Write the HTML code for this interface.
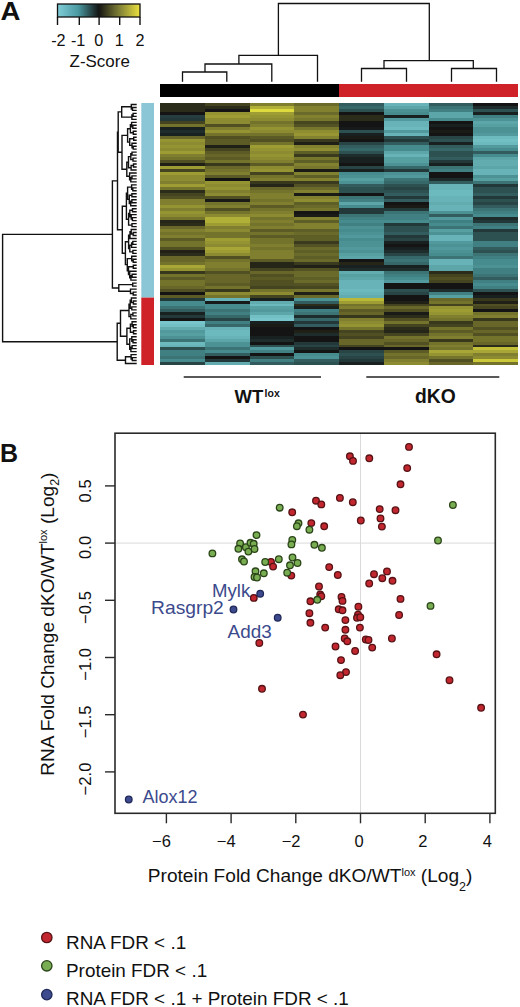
<!DOCTYPE html>
<html><head><meta charset="utf-8"><style>
html,body{margin:0;padding:0;background:#fff;width:520px;height:1007px;overflow:hidden}
svg{display:block}
</style></head><body>
<svg width="520" height="1007" viewBox="0 0 520 1007" shape-rendering="auto">
<g shape-rendering="crispEdges">
<rect x="160.00" y="103.00" width="45.15" height="3.40" fill="#2c2c1a"/>
<rect x="160.00" y="106.00" width="45.15" height="3.40" fill="#2c2c1a"/>
<rect x="160.00" y="108.99" width="45.15" height="3.40" fill="#2c2c1a"/>
<rect x="160.00" y="111.99" width="45.15" height="3.40" fill="#141414"/>
<rect x="160.00" y="114.98" width="45.15" height="3.40" fill="#263e3f"/>
<rect x="160.00" y="117.98" width="45.15" height="3.40" fill="#233839"/>
<rect x="160.00" y="120.97" width="45.15" height="3.40" fill="#444420"/>
<rect x="160.00" y="123.97" width="45.15" height="3.40" fill="#74732c"/>
<rect x="160.00" y="126.96" width="45.15" height="3.40" fill="#192020"/>
<rect x="160.00" y="129.96" width="45.15" height="3.40" fill="#1e2c2c"/>
<rect x="160.00" y="132.95" width="45.15" height="3.40" fill="#192020"/>
<rect x="160.00" y="135.95" width="45.15" height="3.40" fill="#686729"/>
<rect x="160.00" y="138.94" width="45.15" height="3.40" fill="#959433"/>
<rect x="160.00" y="141.94" width="45.15" height="3.40" fill="#8c8b32"/>
<rect x="160.00" y="144.94" width="45.15" height="3.40" fill="#959433"/>
<rect x="160.00" y="147.93" width="45.15" height="3.40" fill="#8c8b32"/>
<rect x="160.00" y="150.93" width="45.15" height="3.40" fill="#9e9d34"/>
<rect x="160.00" y="153.92" width="45.15" height="3.40" fill="#807f2f"/>
<rect x="160.00" y="156.92" width="45.15" height="3.40" fill="#74732c"/>
<rect x="160.00" y="159.91" width="45.15" height="3.40" fill="#505023"/>
<rect x="160.00" y="162.91" width="45.15" height="3.40" fill="#202017"/>
<rect x="160.00" y="165.90" width="45.15" height="3.40" fill="#9e9d34"/>
<rect x="160.00" y="168.90" width="45.15" height="3.40" fill="#444420"/>
<rect x="160.00" y="171.89" width="45.15" height="3.40" fill="#9e9d34"/>
<rect x="160.00" y="174.89" width="45.15" height="3.40" fill="#8c8b32"/>
<rect x="160.00" y="177.88" width="45.15" height="3.40" fill="#8c8b32"/>
<rect x="160.00" y="180.88" width="45.15" height="3.40" fill="#807f2f"/>
<rect x="160.00" y="183.88" width="45.15" height="3.40" fill="#9e9d34"/>
<rect x="160.00" y="186.87" width="45.15" height="3.40" fill="#74732c"/>
<rect x="160.00" y="189.87" width="45.15" height="3.40" fill="#2c2c1a"/>
<rect x="160.00" y="192.86" width="45.15" height="3.40" fill="#444420"/>
<rect x="160.00" y="195.86" width="45.15" height="3.40" fill="#505023"/>
<rect x="160.00" y="198.85" width="45.15" height="3.40" fill="#807f2f"/>
<rect x="160.00" y="201.85" width="45.15" height="3.40" fill="#807f2f"/>
<rect x="160.00" y="204.84" width="45.15" height="3.40" fill="#959433"/>
<rect x="160.00" y="207.84" width="45.15" height="3.40" fill="#807f2f"/>
<rect x="160.00" y="210.83" width="45.15" height="3.40" fill="#959433"/>
<rect x="160.00" y="213.83" width="45.15" height="3.40" fill="#8c8b32"/>
<rect x="160.00" y="216.82" width="45.15" height="3.40" fill="#74732c"/>
<rect x="160.00" y="219.82" width="45.15" height="3.40" fill="#262618"/>
<rect x="160.00" y="222.82" width="45.15" height="3.40" fill="#2c2c1a"/>
<rect x="160.00" y="225.81" width="45.15" height="3.40" fill="#686729"/>
<rect x="160.00" y="228.81" width="45.15" height="3.40" fill="#807f2f"/>
<rect x="160.00" y="231.80" width="45.15" height="3.40" fill="#74732c"/>
<rect x="160.00" y="234.80" width="45.15" height="3.40" fill="#807f2f"/>
<rect x="160.00" y="237.79" width="45.15" height="3.40" fill="#5c5b26"/>
<rect x="160.00" y="240.79" width="45.15" height="3.40" fill="#74732c"/>
<rect x="160.00" y="243.78" width="45.15" height="3.40" fill="#74732c"/>
<rect x="160.00" y="246.78" width="45.15" height="3.40" fill="#505023"/>
<rect x="160.00" y="249.77" width="45.15" height="3.40" fill="#202017"/>
<rect x="160.00" y="252.77" width="45.15" height="3.40" fill="#2c2c1a"/>
<rect x="160.00" y="255.76" width="45.15" height="3.40" fill="#686729"/>
<rect x="160.00" y="258.76" width="45.15" height="3.40" fill="#686729"/>
<rect x="160.00" y="261.76" width="45.15" height="3.40" fill="#74732c"/>
<rect x="160.00" y="264.75" width="45.15" height="3.40" fill="#a7a636"/>
<rect x="160.00" y="267.75" width="45.15" height="3.40" fill="#959433"/>
<rect x="160.00" y="270.74" width="45.15" height="3.40" fill="#38381d"/>
<rect x="160.00" y="273.74" width="45.15" height="3.40" fill="#74732c"/>
<rect x="160.00" y="276.73" width="45.15" height="3.40" fill="#5c5b26"/>
<rect x="160.00" y="279.73" width="45.15" height="3.40" fill="#74732c"/>
<rect x="160.00" y="282.72" width="45.15" height="3.40" fill="#74732c"/>
<rect x="160.00" y="285.72" width="45.15" height="3.40" fill="#686729"/>
<rect x="160.00" y="288.71" width="45.15" height="3.40" fill="#505023"/>
<rect x="160.00" y="291.71" width="45.15" height="3.40" fill="#141414"/>
<rect x="160.00" y="294.70" width="45.15" height="3.40" fill="#5c5b26"/>
<rect x="160.00" y="297.70" width="45.15" height="3.33" fill="#233839"/>
<rect x="160.00" y="300.63" width="45.15" height="3.33" fill="#468c8e"/>
<rect x="160.00" y="303.55" width="45.15" height="3.33" fill="#468c8e"/>
<rect x="160.00" y="306.48" width="45.15" height="3.33" fill="#3c7476"/>
<rect x="160.00" y="309.40" width="45.15" height="3.33" fill="#325c5d"/>
<rect x="160.00" y="312.33" width="45.15" height="3.33" fill="#192020"/>
<rect x="160.00" y="315.26" width="45.15" height="3.33" fill="#233839"/>
<rect x="160.00" y="318.18" width="45.15" height="3.33" fill="#141414"/>
<rect x="160.00" y="321.11" width="45.15" height="3.33" fill="#78c6cb"/>
<rect x="160.00" y="324.03" width="45.15" height="3.33" fill="#72c0c4"/>
<rect x="160.00" y="326.96" width="45.15" height="3.33" fill="#62acb0"/>
<rect x="160.00" y="329.89" width="45.15" height="3.33" fill="#51999c"/>
<rect x="160.00" y="332.81" width="45.15" height="3.33" fill="#56a0a2"/>
<rect x="160.00" y="335.74" width="45.15" height="3.33" fill="#4c9295"/>
<rect x="160.00" y="338.67" width="45.15" height="3.33" fill="#3c7476"/>
<rect x="160.00" y="341.59" width="45.15" height="3.33" fill="#6cbabe"/>
<rect x="160.00" y="344.52" width="45.15" height="3.33" fill="#67b3b7"/>
<rect x="160.00" y="347.44" width="45.15" height="3.33" fill="#2d5051"/>
<rect x="160.00" y="350.37" width="45.15" height="3.33" fill="#418082"/>
<rect x="160.00" y="353.30" width="45.15" height="3.33" fill="#418082"/>
<rect x="160.00" y="356.22" width="45.15" height="3.33" fill="#3c7476"/>
<rect x="160.00" y="359.15" width="45.15" height="3.33" fill="#468c8e"/>
<rect x="160.00" y="362.07" width="45.15" height="3.33" fill="#284445"/>
<rect x="204.75" y="103.00" width="45.15" height="3.40" fill="#444420"/>
<rect x="204.75" y="106.00" width="45.15" height="3.40" fill="#2c2c1a"/>
<rect x="204.75" y="108.99" width="45.15" height="3.40" fill="#141414"/>
<rect x="204.75" y="111.99" width="45.15" height="3.40" fill="#959433"/>
<rect x="204.75" y="114.98" width="45.15" height="3.40" fill="#9e9d34"/>
<rect x="204.75" y="117.98" width="45.15" height="3.40" fill="#8c8b32"/>
<rect x="204.75" y="120.97" width="45.15" height="3.40" fill="#8c8b32"/>
<rect x="204.75" y="123.97" width="45.15" height="3.40" fill="#505023"/>
<rect x="204.75" y="126.96" width="45.15" height="3.40" fill="#807f2f"/>
<rect x="204.75" y="129.96" width="45.15" height="3.40" fill="#959433"/>
<rect x="204.75" y="132.95" width="45.15" height="3.40" fill="#74732c"/>
<rect x="204.75" y="135.95" width="45.15" height="3.40" fill="#505023"/>
<rect x="204.75" y="138.94" width="45.15" height="3.40" fill="#5c5b26"/>
<rect x="204.75" y="141.94" width="45.15" height="3.40" fill="#5c5b26"/>
<rect x="204.75" y="144.94" width="45.15" height="3.40" fill="#202017"/>
<rect x="204.75" y="147.93" width="45.15" height="3.40" fill="#444420"/>
<rect x="204.75" y="150.93" width="45.15" height="3.40" fill="#5c5b26"/>
<rect x="204.75" y="153.92" width="45.15" height="3.40" fill="#686729"/>
<rect x="204.75" y="156.92" width="45.15" height="3.40" fill="#5c5b26"/>
<rect x="204.75" y="159.91" width="45.15" height="3.40" fill="#74732c"/>
<rect x="204.75" y="162.91" width="45.15" height="3.40" fill="#38381d"/>
<rect x="204.75" y="165.90" width="45.15" height="3.40" fill="#686729"/>
<rect x="204.75" y="168.90" width="45.15" height="3.40" fill="#74732c"/>
<rect x="204.75" y="171.89" width="45.15" height="3.40" fill="#807f2f"/>
<rect x="204.75" y="174.89" width="45.15" height="3.40" fill="#5c5b26"/>
<rect x="204.75" y="177.88" width="45.15" height="3.40" fill="#141414"/>
<rect x="204.75" y="180.88" width="45.15" height="3.40" fill="#959433"/>
<rect x="204.75" y="183.88" width="45.15" height="3.40" fill="#8c8b32"/>
<rect x="204.75" y="186.87" width="45.15" height="3.40" fill="#959433"/>
<rect x="204.75" y="189.87" width="45.15" height="3.40" fill="#807f2f"/>
<rect x="204.75" y="192.86" width="45.15" height="3.40" fill="#8c8b32"/>
<rect x="204.75" y="195.86" width="45.15" height="3.40" fill="#505023"/>
<rect x="204.75" y="198.85" width="45.15" height="3.40" fill="#1a1a16"/>
<rect x="204.75" y="201.85" width="45.15" height="3.40" fill="#74732c"/>
<rect x="204.75" y="204.84" width="45.15" height="3.40" fill="#807f2f"/>
<rect x="204.75" y="207.84" width="45.15" height="3.40" fill="#505023"/>
<rect x="204.75" y="210.83" width="45.15" height="3.40" fill="#74732c"/>
<rect x="204.75" y="213.83" width="45.15" height="3.40" fill="#8c8b32"/>
<rect x="204.75" y="216.82" width="45.15" height="3.40" fill="#b0af37"/>
<rect x="204.75" y="219.82" width="45.15" height="3.40" fill="#b0af37"/>
<rect x="204.75" y="222.82" width="45.15" height="3.40" fill="#9e9d34"/>
<rect x="204.75" y="225.81" width="45.15" height="3.40" fill="#807f2f"/>
<rect x="204.75" y="228.81" width="45.15" height="3.40" fill="#8c8b32"/>
<rect x="204.75" y="231.80" width="45.15" height="3.40" fill="#74732c"/>
<rect x="204.75" y="234.80" width="45.15" height="3.40" fill="#74732c"/>
<rect x="204.75" y="237.79" width="45.15" height="3.40" fill="#9e9d34"/>
<rect x="204.75" y="240.79" width="45.15" height="3.40" fill="#959433"/>
<rect x="204.75" y="243.78" width="45.15" height="3.40" fill="#8c8b32"/>
<rect x="204.75" y="246.78" width="45.15" height="3.40" fill="#a7a636"/>
<rect x="204.75" y="249.77" width="45.15" height="3.40" fill="#9e9d34"/>
<rect x="204.75" y="252.77" width="45.15" height="3.40" fill="#8c8b32"/>
<rect x="204.75" y="255.76" width="45.15" height="3.40" fill="#505023"/>
<rect x="204.75" y="258.76" width="45.15" height="3.40" fill="#74732c"/>
<rect x="204.75" y="261.76" width="45.15" height="3.40" fill="#807f2f"/>
<rect x="204.75" y="264.75" width="45.15" height="3.40" fill="#807f2f"/>
<rect x="204.75" y="267.75" width="45.15" height="3.40" fill="#74732c"/>
<rect x="204.75" y="270.74" width="45.15" height="3.40" fill="#505023"/>
<rect x="204.75" y="273.74" width="45.15" height="3.40" fill="#686729"/>
<rect x="204.75" y="276.73" width="45.15" height="3.40" fill="#686729"/>
<rect x="204.75" y="279.73" width="45.15" height="3.40" fill="#686729"/>
<rect x="204.75" y="282.72" width="45.15" height="3.40" fill="#5c5b26"/>
<rect x="204.75" y="285.72" width="45.15" height="3.40" fill="#74732c"/>
<rect x="204.75" y="288.71" width="45.15" height="3.40" fill="#38381d"/>
<rect x="204.75" y="291.71" width="45.15" height="3.40" fill="#8c8b32"/>
<rect x="204.75" y="294.70" width="45.15" height="3.40" fill="#74732c"/>
<rect x="204.75" y="297.70" width="45.15" height="3.33" fill="#67b3b7"/>
<rect x="204.75" y="300.63" width="45.15" height="3.33" fill="#161a1a"/>
<rect x="204.75" y="303.55" width="45.15" height="3.33" fill="#468c8e"/>
<rect x="204.75" y="306.48" width="45.15" height="3.33" fill="#468c8e"/>
<rect x="204.75" y="309.40" width="45.15" height="3.33" fill="#3c7476"/>
<rect x="204.75" y="312.33" width="45.15" height="3.33" fill="#418082"/>
<rect x="204.75" y="315.26" width="45.15" height="3.33" fill="#376869"/>
<rect x="204.75" y="318.18" width="45.15" height="3.33" fill="#284445"/>
<rect x="204.75" y="321.11" width="45.15" height="3.33" fill="#418082"/>
<rect x="204.75" y="324.03" width="45.15" height="3.33" fill="#376869"/>
<rect x="204.75" y="326.96" width="45.15" height="3.33" fill="#67b3b7"/>
<rect x="204.75" y="329.89" width="45.15" height="3.33" fill="#6cbabe"/>
<rect x="204.75" y="332.81" width="45.15" height="3.33" fill="#6cbabe"/>
<rect x="204.75" y="335.74" width="45.15" height="3.33" fill="#67b3b7"/>
<rect x="204.75" y="338.67" width="45.15" height="3.33" fill="#5ca6a9"/>
<rect x="204.75" y="341.59" width="45.15" height="3.33" fill="#4c9295"/>
<rect x="204.75" y="344.52" width="45.15" height="3.33" fill="#4c9295"/>
<rect x="204.75" y="347.44" width="45.15" height="3.33" fill="#3c7476"/>
<rect x="204.75" y="350.37" width="45.15" height="3.33" fill="#468c8e"/>
<rect x="204.75" y="353.30" width="45.15" height="3.33" fill="#325c5d"/>
<rect x="204.75" y="356.22" width="45.15" height="3.33" fill="#141414"/>
<rect x="204.75" y="359.15" width="45.15" height="3.33" fill="#233839"/>
<rect x="204.75" y="362.07" width="45.15" height="3.33" fill="#62acb0"/>
<rect x="249.50" y="103.00" width="45.15" height="3.40" fill="#807f2f"/>
<rect x="249.50" y="106.00" width="45.15" height="3.40" fill="#b0af37"/>
<rect x="249.50" y="108.99" width="45.15" height="3.40" fill="#dddb3d"/>
<rect x="249.50" y="111.99" width="45.15" height="3.40" fill="#9e9d34"/>
<rect x="249.50" y="114.98" width="45.15" height="3.40" fill="#959433"/>
<rect x="249.50" y="117.98" width="45.15" height="3.40" fill="#8c8b32"/>
<rect x="249.50" y="120.97" width="45.15" height="3.40" fill="#74732c"/>
<rect x="249.50" y="123.97" width="45.15" height="3.40" fill="#807f2f"/>
<rect x="249.50" y="126.96" width="45.15" height="3.40" fill="#959433"/>
<rect x="249.50" y="129.96" width="45.15" height="3.40" fill="#8c8b32"/>
<rect x="249.50" y="132.95" width="45.15" height="3.40" fill="#74732c"/>
<rect x="249.50" y="135.95" width="45.15" height="3.40" fill="#5c5b26"/>
<rect x="249.50" y="138.94" width="45.15" height="3.40" fill="#505023"/>
<rect x="249.50" y="141.94" width="45.15" height="3.40" fill="#74732c"/>
<rect x="249.50" y="144.94" width="45.15" height="3.40" fill="#9e9d34"/>
<rect x="249.50" y="147.93" width="45.15" height="3.40" fill="#959433"/>
<rect x="249.50" y="150.93" width="45.15" height="3.40" fill="#8c8b32"/>
<rect x="249.50" y="153.92" width="45.15" height="3.40" fill="#959433"/>
<rect x="249.50" y="156.92" width="45.15" height="3.40" fill="#8c8b32"/>
<rect x="249.50" y="159.91" width="45.15" height="3.40" fill="#807f2f"/>
<rect x="249.50" y="162.91" width="45.15" height="3.40" fill="#5c5b26"/>
<rect x="249.50" y="165.90" width="45.15" height="3.40" fill="#8c8b32"/>
<rect x="249.50" y="168.90" width="45.15" height="3.40" fill="#959433"/>
<rect x="249.50" y="171.89" width="45.15" height="3.40" fill="#444420"/>
<rect x="249.50" y="174.89" width="45.15" height="3.40" fill="#74732c"/>
<rect x="249.50" y="177.88" width="45.15" height="3.40" fill="#807f2f"/>
<rect x="249.50" y="180.88" width="45.15" height="3.40" fill="#38381d"/>
<rect x="249.50" y="183.88" width="45.15" height="3.40" fill="#262618"/>
<rect x="249.50" y="186.87" width="45.15" height="3.40" fill="#686729"/>
<rect x="249.50" y="189.87" width="45.15" height="3.40" fill="#74732c"/>
<rect x="249.50" y="192.86" width="45.15" height="3.40" fill="#807f2f"/>
<rect x="249.50" y="195.86" width="45.15" height="3.40" fill="#807f2f"/>
<rect x="249.50" y="198.85" width="45.15" height="3.40" fill="#74732c"/>
<rect x="249.50" y="201.85" width="45.15" height="3.40" fill="#807f2f"/>
<rect x="249.50" y="204.84" width="45.15" height="3.40" fill="#5c5b26"/>
<rect x="249.50" y="207.84" width="45.15" height="3.40" fill="#74732c"/>
<rect x="249.50" y="210.83" width="45.15" height="3.40" fill="#807f2f"/>
<rect x="249.50" y="213.83" width="45.15" height="3.40" fill="#8c8b32"/>
<rect x="249.50" y="216.82" width="45.15" height="3.40" fill="#74732c"/>
<rect x="249.50" y="219.82" width="45.15" height="3.40" fill="#807f2f"/>
<rect x="249.50" y="222.82" width="45.15" height="3.40" fill="#74732c"/>
<rect x="249.50" y="225.81" width="45.15" height="3.40" fill="#807f2f"/>
<rect x="249.50" y="228.81" width="45.15" height="3.40" fill="#5c5b26"/>
<rect x="249.50" y="231.80" width="45.15" height="3.40" fill="#74732c"/>
<rect x="249.50" y="234.80" width="45.15" height="3.40" fill="#5c5b26"/>
<rect x="249.50" y="237.79" width="45.15" height="3.40" fill="#74732c"/>
<rect x="249.50" y="240.79" width="45.15" height="3.40" fill="#74732c"/>
<rect x="249.50" y="243.78" width="45.15" height="3.40" fill="#807f2f"/>
<rect x="249.50" y="246.78" width="45.15" height="3.40" fill="#74732c"/>
<rect x="249.50" y="249.77" width="45.15" height="3.40" fill="#807f2f"/>
<rect x="249.50" y="252.77" width="45.15" height="3.40" fill="#807f2f"/>
<rect x="249.50" y="255.76" width="45.15" height="3.40" fill="#807f2f"/>
<rect x="249.50" y="258.76" width="45.15" height="3.40" fill="#5c5b26"/>
<rect x="249.50" y="261.76" width="45.15" height="3.40" fill="#262618"/>
<rect x="249.50" y="264.75" width="45.15" height="3.40" fill="#262618"/>
<rect x="249.50" y="267.75" width="45.15" height="3.40" fill="#444420"/>
<rect x="249.50" y="270.74" width="45.15" height="3.40" fill="#686729"/>
<rect x="249.50" y="273.74" width="45.15" height="3.40" fill="#505023"/>
<rect x="249.50" y="276.73" width="45.15" height="3.40" fill="#5c5b26"/>
<rect x="249.50" y="279.73" width="45.15" height="3.40" fill="#505023"/>
<rect x="249.50" y="282.72" width="45.15" height="3.40" fill="#505023"/>
<rect x="249.50" y="285.72" width="45.15" height="3.40" fill="#444420"/>
<rect x="249.50" y="288.71" width="45.15" height="3.40" fill="#74732c"/>
<rect x="249.50" y="291.71" width="45.15" height="3.40" fill="#8c8b32"/>
<rect x="249.50" y="294.70" width="45.15" height="3.40" fill="#444420"/>
<rect x="249.50" y="297.70" width="45.15" height="3.33" fill="#192020"/>
<rect x="249.50" y="300.63" width="45.15" height="3.33" fill="#62acb0"/>
<rect x="249.50" y="303.55" width="45.15" height="3.33" fill="#6cbabe"/>
<rect x="249.50" y="306.48" width="45.15" height="3.33" fill="#56a0a2"/>
<rect x="249.50" y="309.40" width="45.15" height="3.33" fill="#51999c"/>
<rect x="249.50" y="312.33" width="45.15" height="3.33" fill="#5ca6a9"/>
<rect x="249.50" y="315.26" width="45.15" height="3.33" fill="#72c0c4"/>
<rect x="249.50" y="318.18" width="45.15" height="3.33" fill="#78c6cb"/>
<rect x="249.50" y="321.11" width="45.15" height="3.33" fill="#192020"/>
<rect x="249.50" y="324.03" width="45.15" height="3.33" fill="#1a1a16"/>
<rect x="249.50" y="326.96" width="45.15" height="3.33" fill="#141414"/>
<rect x="249.50" y="329.89" width="45.15" height="3.33" fill="#141414"/>
<rect x="249.50" y="332.81" width="45.15" height="3.33" fill="#141414"/>
<rect x="249.50" y="335.74" width="45.15" height="3.33" fill="#192020"/>
<rect x="249.50" y="338.67" width="45.15" height="3.33" fill="#1e2c2c"/>
<rect x="249.50" y="341.59" width="45.15" height="3.33" fill="#141414"/>
<rect x="249.50" y="344.52" width="45.15" height="3.33" fill="#2d5051"/>
<rect x="249.50" y="347.44" width="45.15" height="3.33" fill="#51999c"/>
<rect x="249.50" y="350.37" width="45.15" height="3.33" fill="#418082"/>
<rect x="249.50" y="353.30" width="45.15" height="3.33" fill="#141414"/>
<rect x="249.50" y="356.22" width="45.15" height="3.33" fill="#2d5051"/>
<rect x="249.50" y="359.15" width="45.15" height="3.33" fill="#418082"/>
<rect x="249.50" y="362.07" width="45.15" height="3.33" fill="#325c5d"/>
<rect x="294.25" y="103.00" width="45.15" height="3.40" fill="#6a6a2a"/>
<rect x="294.25" y="106.00" width="45.15" height="3.40" fill="#828130"/>
<rect x="294.25" y="108.99" width="45.15" height="3.40" fill="#828130"/>
<rect x="294.25" y="111.99" width="45.15" height="3.40" fill="#6a6a2a"/>
<rect x="294.25" y="114.98" width="45.15" height="3.40" fill="#828130"/>
<rect x="294.25" y="117.98" width="45.15" height="3.40" fill="#76762d"/>
<rect x="294.25" y="120.97" width="45.15" height="3.40" fill="#464621"/>
<rect x="294.25" y="123.97" width="45.15" height="3.40" fill="#525224"/>
<rect x="294.25" y="126.96" width="45.15" height="3.40" fill="#76762d"/>
<rect x="294.25" y="129.96" width="45.15" height="3.40" fill="#8e8d32"/>
<rect x="294.25" y="132.95" width="45.15" height="3.40" fill="#979633"/>
<rect x="294.25" y="135.95" width="45.15" height="3.40" fill="#828130"/>
<rect x="294.25" y="138.94" width="45.15" height="3.40" fill="#3a3a1e"/>
<rect x="294.25" y="141.94" width="45.15" height="3.40" fill="#202017"/>
<rect x="294.25" y="144.94" width="45.15" height="3.40" fill="#828130"/>
<rect x="294.25" y="147.93" width="45.15" height="3.40" fill="#8e8d32"/>
<rect x="294.25" y="150.93" width="45.15" height="3.40" fill="#5e5e27"/>
<rect x="294.25" y="153.92" width="45.15" height="3.40" fill="#3a3a1e"/>
<rect x="294.25" y="156.92" width="45.15" height="3.40" fill="#76762d"/>
<rect x="294.25" y="159.91" width="45.15" height="3.40" fill="#5e5e27"/>
<rect x="294.25" y="162.91" width="45.15" height="3.40" fill="#828130"/>
<rect x="294.25" y="165.90" width="45.15" height="3.40" fill="#76762d"/>
<rect x="294.25" y="168.90" width="45.15" height="3.40" fill="#1a1a16"/>
<rect x="294.25" y="171.89" width="45.15" height="3.40" fill="#828130"/>
<rect x="294.25" y="174.89" width="45.15" height="3.40" fill="#5e5e27"/>
<rect x="294.25" y="177.88" width="45.15" height="3.40" fill="#828130"/>
<rect x="294.25" y="180.88" width="45.15" height="3.40" fill="#3a3a1e"/>
<rect x="294.25" y="183.88" width="45.15" height="3.40" fill="#525224"/>
<rect x="294.25" y="186.87" width="45.15" height="3.40" fill="#6a6a2a"/>
<rect x="294.25" y="189.87" width="45.15" height="3.40" fill="#828130"/>
<rect x="294.25" y="192.86" width="45.15" height="3.40" fill="#1a1a16"/>
<rect x="294.25" y="195.86" width="45.15" height="3.40" fill="#828130"/>
<rect x="294.25" y="198.85" width="45.15" height="3.40" fill="#8e8d32"/>
<rect x="294.25" y="201.85" width="45.15" height="3.40" fill="#5e5e27"/>
<rect x="294.25" y="204.84" width="45.15" height="3.40" fill="#6a6a2a"/>
<rect x="294.25" y="207.84" width="45.15" height="3.40" fill="#76762d"/>
<rect x="294.25" y="210.83" width="45.15" height="3.40" fill="#141414"/>
<rect x="294.25" y="213.83" width="45.15" height="3.40" fill="#1a1a16"/>
<rect x="294.25" y="216.82" width="45.15" height="3.40" fill="#828130"/>
<rect x="294.25" y="219.82" width="45.15" height="3.40" fill="#5e5e27"/>
<rect x="294.25" y="222.82" width="45.15" height="3.40" fill="#828130"/>
<rect x="294.25" y="225.81" width="45.15" height="3.40" fill="#828130"/>
<rect x="294.25" y="228.81" width="45.15" height="3.40" fill="#5e5e27"/>
<rect x="294.25" y="231.80" width="45.15" height="3.40" fill="#6a6a2a"/>
<rect x="294.25" y="234.80" width="45.15" height="3.40" fill="#5e5e27"/>
<rect x="294.25" y="237.79" width="45.15" height="3.40" fill="#5e5e27"/>
<rect x="294.25" y="240.79" width="45.15" height="3.40" fill="#3a3a1e"/>
<rect x="294.25" y="243.78" width="45.15" height="3.40" fill="#525224"/>
<rect x="294.25" y="246.78" width="45.15" height="3.40" fill="#6a6a2a"/>
<rect x="294.25" y="249.77" width="45.15" height="3.40" fill="#5e5e27"/>
<rect x="294.25" y="252.77" width="45.15" height="3.40" fill="#6a6a2a"/>
<rect x="294.25" y="255.76" width="45.15" height="3.40" fill="#5e5e27"/>
<rect x="294.25" y="258.76" width="45.15" height="3.40" fill="#6a6a2a"/>
<rect x="294.25" y="261.76" width="45.15" height="3.40" fill="#3a3a1e"/>
<rect x="294.25" y="264.75" width="45.15" height="3.40" fill="#202017"/>
<rect x="294.25" y="267.75" width="45.15" height="3.40" fill="#525224"/>
<rect x="294.25" y="270.74" width="45.15" height="3.40" fill="#6a6a2a"/>
<rect x="294.25" y="273.74" width="45.15" height="3.40" fill="#6a6a2a"/>
<rect x="294.25" y="276.73" width="45.15" height="3.40" fill="#5e5e27"/>
<rect x="294.25" y="279.73" width="45.15" height="3.40" fill="#6a6a2a"/>
<rect x="294.25" y="282.72" width="45.15" height="3.40" fill="#525224"/>
<rect x="294.25" y="285.72" width="45.15" height="3.40" fill="#464621"/>
<rect x="294.25" y="288.71" width="45.15" height="3.40" fill="#76762d"/>
<rect x="294.25" y="291.71" width="45.15" height="3.40" fill="#202017"/>
<rect x="294.25" y="294.70" width="45.15" height="3.40" fill="#6a6a2a"/>
<rect x="294.25" y="297.70" width="45.15" height="3.33" fill="#4c9295"/>
<rect x="294.25" y="300.63" width="45.15" height="3.33" fill="#325c5d"/>
<rect x="294.25" y="303.55" width="45.15" height="3.33" fill="#2c2c1a"/>
<rect x="294.25" y="306.48" width="45.15" height="3.33" fill="#192020"/>
<rect x="294.25" y="309.40" width="45.15" height="3.33" fill="#418082"/>
<rect x="294.25" y="312.33" width="45.15" height="3.33" fill="#3c7476"/>
<rect x="294.25" y="315.26" width="45.15" height="3.33" fill="#1e2c2c"/>
<rect x="294.25" y="318.18" width="45.15" height="3.33" fill="#376869"/>
<rect x="294.25" y="321.11" width="45.15" height="3.33" fill="#233839"/>
<rect x="294.25" y="324.03" width="45.15" height="3.33" fill="#325c5d"/>
<rect x="294.25" y="326.96" width="45.15" height="3.33" fill="#141414"/>
<rect x="294.25" y="329.89" width="45.15" height="3.33" fill="#202017"/>
<rect x="294.25" y="332.81" width="45.15" height="3.33" fill="#1e2c2c"/>
<rect x="294.25" y="335.74" width="45.15" height="3.33" fill="#141414"/>
<rect x="294.25" y="338.67" width="45.15" height="3.33" fill="#141414"/>
<rect x="294.25" y="341.59" width="45.15" height="3.33" fill="#233839"/>
<rect x="294.25" y="344.52" width="45.15" height="3.33" fill="#284445"/>
<rect x="294.25" y="347.44" width="45.15" height="3.33" fill="#1e2c2c"/>
<rect x="294.25" y="350.37" width="45.15" height="3.33" fill="#141414"/>
<rect x="294.25" y="353.30" width="45.15" height="3.33" fill="#468c8e"/>
<rect x="294.25" y="356.22" width="45.15" height="3.33" fill="#4c9295"/>
<rect x="294.25" y="359.15" width="45.15" height="3.33" fill="#325c5d"/>
<rect x="294.25" y="362.07" width="45.15" height="3.33" fill="#2d5051"/>
<rect x="339.00" y="103.00" width="45.15" height="3.40" fill="#325c5d"/>
<rect x="339.00" y="106.00" width="45.15" height="3.40" fill="#376869"/>
<rect x="339.00" y="108.99" width="45.15" height="3.40" fill="#2d5051"/>
<rect x="339.00" y="111.99" width="45.15" height="3.40" fill="#141414"/>
<rect x="339.00" y="114.98" width="45.15" height="3.40" fill="#2c2c1a"/>
<rect x="339.00" y="117.98" width="45.15" height="3.40" fill="#2c2c1a"/>
<rect x="339.00" y="120.97" width="45.15" height="3.40" fill="#141414"/>
<rect x="339.00" y="123.97" width="45.15" height="3.40" fill="#141414"/>
<rect x="339.00" y="126.96" width="45.15" height="3.40" fill="#161a1a"/>
<rect x="339.00" y="129.96" width="45.15" height="3.40" fill="#2d5051"/>
<rect x="339.00" y="132.95" width="45.15" height="3.40" fill="#192020"/>
<rect x="339.00" y="135.95" width="45.15" height="3.40" fill="#1a1a16"/>
<rect x="339.00" y="138.94" width="45.15" height="3.40" fill="#141414"/>
<rect x="339.00" y="141.94" width="45.15" height="3.40" fill="#284445"/>
<rect x="339.00" y="144.94" width="45.15" height="3.40" fill="#325c5d"/>
<rect x="339.00" y="147.93" width="45.15" height="3.40" fill="#376869"/>
<rect x="339.00" y="150.93" width="45.15" height="3.40" fill="#2d5051"/>
<rect x="339.00" y="153.92" width="45.15" height="3.40" fill="#1e2c2c"/>
<rect x="339.00" y="156.92" width="45.15" height="3.40" fill="#192020"/>
<rect x="339.00" y="159.91" width="45.15" height="3.40" fill="#192020"/>
<rect x="339.00" y="162.91" width="45.15" height="3.40" fill="#141414"/>
<rect x="339.00" y="165.90" width="45.15" height="3.40" fill="#284445"/>
<rect x="339.00" y="168.90" width="45.15" height="3.40" fill="#192020"/>
<rect x="339.00" y="171.89" width="45.15" height="3.40" fill="#468c8e"/>
<rect x="339.00" y="174.89" width="45.15" height="3.40" fill="#4c9295"/>
<rect x="339.00" y="177.88" width="45.15" height="3.40" fill="#56a0a2"/>
<rect x="339.00" y="180.88" width="45.15" height="3.40" fill="#4c9295"/>
<rect x="339.00" y="183.88" width="45.15" height="3.40" fill="#325c5d"/>
<rect x="339.00" y="186.87" width="45.15" height="3.40" fill="#2d5051"/>
<rect x="339.00" y="189.87" width="45.15" height="3.40" fill="#2d5051"/>
<rect x="339.00" y="192.86" width="45.15" height="3.40" fill="#141414"/>
<rect x="339.00" y="195.86" width="45.15" height="3.40" fill="#3c7476"/>
<rect x="339.00" y="198.85" width="45.15" height="3.40" fill="#418082"/>
<rect x="339.00" y="201.85" width="45.15" height="3.40" fill="#5ca6a9"/>
<rect x="339.00" y="204.84" width="45.15" height="3.40" fill="#468c8e"/>
<rect x="339.00" y="207.84" width="45.15" height="3.40" fill="#233839"/>
<rect x="339.00" y="210.83" width="45.15" height="3.40" fill="#233839"/>
<rect x="339.00" y="213.83" width="45.15" height="3.40" fill="#3c7476"/>
<rect x="339.00" y="216.82" width="45.15" height="3.40" fill="#418082"/>
<rect x="339.00" y="219.82" width="45.15" height="3.40" fill="#468c8e"/>
<rect x="339.00" y="222.82" width="45.15" height="3.40" fill="#418082"/>
<rect x="339.00" y="225.81" width="45.15" height="3.40" fill="#4c9295"/>
<rect x="339.00" y="228.81" width="45.15" height="3.40" fill="#468c8e"/>
<rect x="339.00" y="231.80" width="45.15" height="3.40" fill="#4c9295"/>
<rect x="339.00" y="234.80" width="45.15" height="3.40" fill="#51999c"/>
<rect x="339.00" y="237.79" width="45.15" height="3.40" fill="#468c8e"/>
<rect x="339.00" y="240.79" width="45.15" height="3.40" fill="#4c9295"/>
<rect x="339.00" y="243.78" width="45.15" height="3.40" fill="#4c9295"/>
<rect x="339.00" y="246.78" width="45.15" height="3.40" fill="#51999c"/>
<rect x="339.00" y="249.77" width="45.15" height="3.40" fill="#4c9295"/>
<rect x="339.00" y="252.77" width="45.15" height="3.40" fill="#56a0a2"/>
<rect x="339.00" y="255.76" width="45.15" height="3.40" fill="#5ca6a9"/>
<rect x="339.00" y="258.76" width="45.15" height="3.40" fill="#141414"/>
<rect x="339.00" y="261.76" width="45.15" height="3.40" fill="#262618"/>
<rect x="339.00" y="264.75" width="45.15" height="3.40" fill="#192020"/>
<rect x="339.00" y="267.75" width="45.15" height="3.40" fill="#1e2c2c"/>
<rect x="339.00" y="270.74" width="45.15" height="3.40" fill="#62acb0"/>
<rect x="339.00" y="273.74" width="45.15" height="3.40" fill="#56a0a2"/>
<rect x="339.00" y="276.73" width="45.15" height="3.40" fill="#5ca6a9"/>
<rect x="339.00" y="279.73" width="45.15" height="3.40" fill="#67b3b7"/>
<rect x="339.00" y="282.72" width="45.15" height="3.40" fill="#67b3b7"/>
<rect x="339.00" y="285.72" width="45.15" height="3.40" fill="#67b3b7"/>
<rect x="339.00" y="288.71" width="45.15" height="3.40" fill="#6cbabe"/>
<rect x="339.00" y="291.71" width="45.15" height="3.40" fill="#67b3b7"/>
<rect x="339.00" y="294.70" width="45.15" height="3.40" fill="#62acb0"/>
<rect x="339.00" y="297.70" width="45.15" height="3.33" fill="#b9b838"/>
<rect x="339.00" y="300.63" width="45.15" height="3.33" fill="#9e9d34"/>
<rect x="339.00" y="303.55" width="45.15" height="3.33" fill="#74732c"/>
<rect x="339.00" y="306.48" width="45.15" height="3.33" fill="#807f2f"/>
<rect x="339.00" y="309.40" width="45.15" height="3.33" fill="#5c5b26"/>
<rect x="339.00" y="312.33" width="45.15" height="3.33" fill="#686729"/>
<rect x="339.00" y="315.26" width="45.15" height="3.33" fill="#38381d"/>
<rect x="339.00" y="318.18" width="45.15" height="3.33" fill="#807f2f"/>
<rect x="339.00" y="321.11" width="45.15" height="3.33" fill="#8c8b32"/>
<rect x="339.00" y="324.03" width="45.15" height="3.33" fill="#959433"/>
<rect x="339.00" y="326.96" width="45.15" height="3.33" fill="#74732c"/>
<rect x="339.00" y="329.89" width="45.15" height="3.33" fill="#444420"/>
<rect x="339.00" y="332.81" width="45.15" height="3.33" fill="#505023"/>
<rect x="339.00" y="335.74" width="45.15" height="3.33" fill="#444420"/>
<rect x="339.00" y="338.67" width="45.15" height="3.33" fill="#686729"/>
<rect x="339.00" y="341.59" width="45.15" height="3.33" fill="#686729"/>
<rect x="339.00" y="344.52" width="45.15" height="3.33" fill="#444420"/>
<rect x="339.00" y="347.44" width="45.15" height="3.33" fill="#141414"/>
<rect x="339.00" y="350.37" width="45.15" height="3.33" fill="#284445"/>
<rect x="339.00" y="353.30" width="45.15" height="3.33" fill="#2d5051"/>
<rect x="339.00" y="356.22" width="45.15" height="3.33" fill="#284445"/>
<rect x="339.00" y="359.15" width="45.15" height="3.33" fill="#233839"/>
<rect x="339.00" y="362.07" width="45.15" height="3.33" fill="#192020"/>
<rect x="383.75" y="103.00" width="45.15" height="3.40" fill="#67b3b7"/>
<rect x="383.75" y="106.00" width="45.15" height="3.40" fill="#5ca6a9"/>
<rect x="383.75" y="108.99" width="45.15" height="3.40" fill="#4c9295"/>
<rect x="383.75" y="111.99" width="45.15" height="3.40" fill="#468c8e"/>
<rect x="383.75" y="114.98" width="45.15" height="3.40" fill="#192020"/>
<rect x="383.75" y="117.98" width="45.15" height="3.40" fill="#51999c"/>
<rect x="383.75" y="120.97" width="45.15" height="3.40" fill="#67b3b7"/>
<rect x="383.75" y="123.97" width="45.15" height="3.40" fill="#67b3b7"/>
<rect x="383.75" y="126.96" width="45.15" height="3.40" fill="#6cbabe"/>
<rect x="383.75" y="129.96" width="45.15" height="3.40" fill="#51999c"/>
<rect x="383.75" y="132.95" width="45.15" height="3.40" fill="#67b3b7"/>
<rect x="383.75" y="135.95" width="45.15" height="3.40" fill="#2d5051"/>
<rect x="383.75" y="138.94" width="45.15" height="3.40" fill="#233839"/>
<rect x="383.75" y="141.94" width="45.15" height="3.40" fill="#325c5d"/>
<rect x="383.75" y="144.94" width="45.15" height="3.40" fill="#468c8e"/>
<rect x="383.75" y="147.93" width="45.15" height="3.40" fill="#468c8e"/>
<rect x="383.75" y="150.93" width="45.15" height="3.40" fill="#5ca6a9"/>
<rect x="383.75" y="153.92" width="45.15" height="3.40" fill="#67b3b7"/>
<rect x="383.75" y="156.92" width="45.15" height="3.40" fill="#56a0a2"/>
<rect x="383.75" y="159.91" width="45.15" height="3.40" fill="#56a0a2"/>
<rect x="383.75" y="162.91" width="45.15" height="3.40" fill="#4c9295"/>
<rect x="383.75" y="165.90" width="45.15" height="3.40" fill="#376869"/>
<rect x="383.75" y="168.90" width="45.15" height="3.40" fill="#233839"/>
<rect x="383.75" y="171.89" width="45.15" height="3.40" fill="#4c9295"/>
<rect x="383.75" y="174.89" width="45.15" height="3.40" fill="#51999c"/>
<rect x="383.75" y="177.88" width="45.15" height="3.40" fill="#3c7476"/>
<rect x="383.75" y="180.88" width="45.15" height="3.40" fill="#376869"/>
<rect x="383.75" y="183.88" width="45.15" height="3.40" fill="#2d5051"/>
<rect x="383.75" y="186.87" width="45.15" height="3.40" fill="#284445"/>
<rect x="383.75" y="189.87" width="45.15" height="3.40" fill="#2d5051"/>
<rect x="383.75" y="192.86" width="45.15" height="3.40" fill="#325c5d"/>
<rect x="383.75" y="195.86" width="45.15" height="3.40" fill="#233839"/>
<rect x="383.75" y="198.85" width="45.15" height="3.40" fill="#325c5d"/>
<rect x="383.75" y="201.85" width="45.15" height="3.40" fill="#141414"/>
<rect x="383.75" y="204.84" width="45.15" height="3.40" fill="#1a1a16"/>
<rect x="383.75" y="207.84" width="45.15" height="3.40" fill="#233839"/>
<rect x="383.75" y="210.83" width="45.15" height="3.40" fill="#3c7476"/>
<rect x="383.75" y="213.83" width="45.15" height="3.40" fill="#418082"/>
<rect x="383.75" y="216.82" width="45.15" height="3.40" fill="#418082"/>
<rect x="383.75" y="219.82" width="45.15" height="3.40" fill="#468c8e"/>
<rect x="383.75" y="222.82" width="45.15" height="3.40" fill="#233839"/>
<rect x="383.75" y="225.81" width="45.15" height="3.40" fill="#2d5051"/>
<rect x="383.75" y="228.81" width="45.15" height="3.40" fill="#2d5051"/>
<rect x="383.75" y="231.80" width="45.15" height="3.40" fill="#325c5d"/>
<rect x="383.75" y="234.80" width="45.15" height="3.40" fill="#233839"/>
<rect x="383.75" y="237.79" width="45.15" height="3.40" fill="#284445"/>
<rect x="383.75" y="240.79" width="45.15" height="3.40" fill="#192020"/>
<rect x="383.75" y="243.78" width="45.15" height="3.40" fill="#141414"/>
<rect x="383.75" y="246.78" width="45.15" height="3.40" fill="#192020"/>
<rect x="383.75" y="249.77" width="45.15" height="3.40" fill="#1e2c2c"/>
<rect x="383.75" y="252.77" width="45.15" height="3.40" fill="#284445"/>
<rect x="383.75" y="255.76" width="45.15" height="3.40" fill="#376869"/>
<rect x="383.75" y="258.76" width="45.15" height="3.40" fill="#3c7476"/>
<rect x="383.75" y="261.76" width="45.15" height="3.40" fill="#376869"/>
<rect x="383.75" y="264.75" width="45.15" height="3.40" fill="#192020"/>
<rect x="383.75" y="267.75" width="45.15" height="3.40" fill="#1e2c2c"/>
<rect x="383.75" y="270.74" width="45.15" height="3.40" fill="#3c7476"/>
<rect x="383.75" y="273.74" width="45.15" height="3.40" fill="#418082"/>
<rect x="383.75" y="276.73" width="45.15" height="3.40" fill="#468c8e"/>
<rect x="383.75" y="279.73" width="45.15" height="3.40" fill="#51999c"/>
<rect x="383.75" y="282.72" width="45.15" height="3.40" fill="#141414"/>
<rect x="383.75" y="285.72" width="45.15" height="3.40" fill="#141414"/>
<rect x="383.75" y="288.71" width="45.15" height="3.40" fill="#2d5051"/>
<rect x="383.75" y="291.71" width="45.15" height="3.40" fill="#284445"/>
<rect x="383.75" y="294.70" width="45.15" height="3.40" fill="#141414"/>
<rect x="383.75" y="297.70" width="45.15" height="3.33" fill="#141414"/>
<rect x="383.75" y="300.63" width="45.15" height="3.33" fill="#202017"/>
<rect x="383.75" y="303.55" width="45.15" height="3.33" fill="#444420"/>
<rect x="383.75" y="306.48" width="45.15" height="3.33" fill="#686729"/>
<rect x="383.75" y="309.40" width="45.15" height="3.33" fill="#505023"/>
<rect x="383.75" y="312.33" width="45.15" height="3.33" fill="#1a1a16"/>
<rect x="383.75" y="315.26" width="45.15" height="3.33" fill="#2c2c1a"/>
<rect x="383.75" y="318.18" width="45.15" height="3.33" fill="#505023"/>
<rect x="383.75" y="321.11" width="45.15" height="3.33" fill="#74732c"/>
<rect x="383.75" y="324.03" width="45.15" height="3.33" fill="#444420"/>
<rect x="383.75" y="326.96" width="45.15" height="3.33" fill="#2c2c1a"/>
<rect x="383.75" y="329.89" width="45.15" height="3.33" fill="#262618"/>
<rect x="383.75" y="332.81" width="45.15" height="3.33" fill="#444420"/>
<rect x="383.75" y="335.74" width="45.15" height="3.33" fill="#74732c"/>
<rect x="383.75" y="338.67" width="45.15" height="3.33" fill="#686729"/>
<rect x="383.75" y="341.59" width="45.15" height="3.33" fill="#505023"/>
<rect x="383.75" y="344.52" width="45.15" height="3.33" fill="#686729"/>
<rect x="383.75" y="347.44" width="45.15" height="3.33" fill="#141414"/>
<rect x="383.75" y="350.37" width="45.15" height="3.33" fill="#5c5b26"/>
<rect x="383.75" y="353.30" width="45.15" height="3.33" fill="#74732c"/>
<rect x="383.75" y="356.22" width="45.15" height="3.33" fill="#686729"/>
<rect x="383.75" y="359.15" width="45.15" height="3.33" fill="#807f2f"/>
<rect x="383.75" y="362.07" width="45.15" height="3.33" fill="#8c8b32"/>
<rect x="428.50" y="103.00" width="45.15" height="3.40" fill="#325c5d"/>
<rect x="428.50" y="106.00" width="45.15" height="3.40" fill="#3c7476"/>
<rect x="428.50" y="108.99" width="45.15" height="3.40" fill="#418082"/>
<rect x="428.50" y="111.99" width="45.15" height="3.40" fill="#5ca6a9"/>
<rect x="428.50" y="114.98" width="45.15" height="3.40" fill="#5ca6a9"/>
<rect x="428.50" y="117.98" width="45.15" height="3.40" fill="#468c8e"/>
<rect x="428.50" y="120.97" width="45.15" height="3.40" fill="#141414"/>
<rect x="428.50" y="123.97" width="45.15" height="3.40" fill="#192020"/>
<rect x="428.50" y="126.96" width="45.15" height="3.40" fill="#141414"/>
<rect x="428.50" y="129.96" width="45.15" height="3.40" fill="#1a1a16"/>
<rect x="428.50" y="132.95" width="45.15" height="3.40" fill="#141414"/>
<rect x="428.50" y="135.95" width="45.15" height="3.40" fill="#284445"/>
<rect x="428.50" y="138.94" width="45.15" height="3.40" fill="#2d5051"/>
<rect x="428.50" y="141.94" width="45.15" height="3.40" fill="#192020"/>
<rect x="428.50" y="144.94" width="45.15" height="3.40" fill="#325c5d"/>
<rect x="428.50" y="147.93" width="45.15" height="3.40" fill="#376869"/>
<rect x="428.50" y="150.93" width="45.15" height="3.40" fill="#2d5051"/>
<rect x="428.50" y="153.92" width="45.15" height="3.40" fill="#2d5051"/>
<rect x="428.50" y="156.92" width="45.15" height="3.40" fill="#325c5d"/>
<rect x="428.50" y="159.91" width="45.15" height="3.40" fill="#233839"/>
<rect x="428.50" y="162.91" width="45.15" height="3.40" fill="#192020"/>
<rect x="428.50" y="165.90" width="45.15" height="3.40" fill="#3c7476"/>
<rect x="428.50" y="168.90" width="45.15" height="3.40" fill="#418082"/>
<rect x="428.50" y="171.89" width="45.15" height="3.40" fill="#141414"/>
<rect x="428.50" y="174.89" width="45.15" height="3.40" fill="#141414"/>
<rect x="428.50" y="177.88" width="45.15" height="3.40" fill="#1e2c2c"/>
<rect x="428.50" y="180.88" width="45.15" height="3.40" fill="#325c5d"/>
<rect x="428.50" y="183.88" width="45.15" height="3.40" fill="#67b3b7"/>
<rect x="428.50" y="186.87" width="45.15" height="3.40" fill="#67b3b7"/>
<rect x="428.50" y="189.87" width="45.15" height="3.40" fill="#6cbabe"/>
<rect x="428.50" y="192.86" width="45.15" height="3.40" fill="#6cbabe"/>
<rect x="428.50" y="195.86" width="45.15" height="3.40" fill="#67b3b7"/>
<rect x="428.50" y="198.85" width="45.15" height="3.40" fill="#67b3b7"/>
<rect x="428.50" y="201.85" width="45.15" height="3.40" fill="#62acb0"/>
<rect x="428.50" y="204.84" width="45.15" height="3.40" fill="#67b3b7"/>
<rect x="428.50" y="207.84" width="45.15" height="3.40" fill="#67b3b7"/>
<rect x="428.50" y="210.83" width="45.15" height="3.40" fill="#4c9295"/>
<rect x="428.50" y="213.83" width="45.15" height="3.40" fill="#325c5d"/>
<rect x="428.50" y="216.82" width="45.15" height="3.40" fill="#51999c"/>
<rect x="428.50" y="219.82" width="45.15" height="3.40" fill="#418082"/>
<rect x="428.50" y="222.82" width="45.15" height="3.40" fill="#468c8e"/>
<rect x="428.50" y="225.81" width="45.15" height="3.40" fill="#3c7476"/>
<rect x="428.50" y="228.81" width="45.15" height="3.40" fill="#56a0a2"/>
<rect x="428.50" y="231.80" width="45.15" height="3.40" fill="#4c9295"/>
<rect x="428.50" y="234.80" width="45.15" height="3.40" fill="#67b3b7"/>
<rect x="428.50" y="237.79" width="45.15" height="3.40" fill="#67b3b7"/>
<rect x="428.50" y="240.79" width="45.15" height="3.40" fill="#51999c"/>
<rect x="428.50" y="243.78" width="45.15" height="3.40" fill="#4c9295"/>
<rect x="428.50" y="246.78" width="45.15" height="3.40" fill="#51999c"/>
<rect x="428.50" y="249.77" width="45.15" height="3.40" fill="#4c9295"/>
<rect x="428.50" y="252.77" width="45.15" height="3.40" fill="#468c8e"/>
<rect x="428.50" y="255.76" width="45.15" height="3.40" fill="#3c7476"/>
<rect x="428.50" y="258.76" width="45.15" height="3.40" fill="#67b3b7"/>
<rect x="428.50" y="261.76" width="45.15" height="3.40" fill="#67b3b7"/>
<rect x="428.50" y="264.75" width="45.15" height="3.40" fill="#5ca6a9"/>
<rect x="428.50" y="267.75" width="45.15" height="3.40" fill="#5ca6a9"/>
<rect x="428.50" y="270.74" width="45.15" height="3.40" fill="#2c2c1a"/>
<rect x="428.50" y="273.74" width="45.15" height="3.40" fill="#444420"/>
<rect x="428.50" y="276.73" width="45.15" height="3.40" fill="#505023"/>
<rect x="428.50" y="279.73" width="45.15" height="3.40" fill="#444420"/>
<rect x="428.50" y="282.72" width="45.15" height="3.40" fill="#141414"/>
<rect x="428.50" y="285.72" width="45.15" height="3.40" fill="#141414"/>
<rect x="428.50" y="288.71" width="45.15" height="3.40" fill="#1e2c2c"/>
<rect x="428.50" y="291.71" width="45.15" height="3.40" fill="#418082"/>
<rect x="428.50" y="294.70" width="45.15" height="3.40" fill="#56a0a2"/>
<rect x="428.50" y="297.70" width="45.15" height="3.33" fill="#686729"/>
<rect x="428.50" y="300.63" width="45.15" height="3.33" fill="#74732c"/>
<rect x="428.50" y="303.55" width="45.15" height="3.33" fill="#444420"/>
<rect x="428.50" y="306.48" width="45.15" height="3.33" fill="#959433"/>
<rect x="428.50" y="309.40" width="45.15" height="3.33" fill="#9e9d34"/>
<rect x="428.50" y="312.33" width="45.15" height="3.33" fill="#959433"/>
<rect x="428.50" y="315.26" width="45.15" height="3.33" fill="#807f2f"/>
<rect x="428.50" y="318.18" width="45.15" height="3.33" fill="#74732c"/>
<rect x="428.50" y="321.11" width="45.15" height="3.33" fill="#38381d"/>
<rect x="428.50" y="324.03" width="45.15" height="3.33" fill="#444420"/>
<rect x="428.50" y="326.96" width="45.15" height="3.33" fill="#74732c"/>
<rect x="428.50" y="329.89" width="45.15" height="3.33" fill="#5c5b26"/>
<rect x="428.50" y="332.81" width="45.15" height="3.33" fill="#74732c"/>
<rect x="428.50" y="335.74" width="45.15" height="3.33" fill="#807f2f"/>
<rect x="428.50" y="338.67" width="45.15" height="3.33" fill="#38381d"/>
<rect x="428.50" y="341.59" width="45.15" height="3.33" fill="#74732c"/>
<rect x="428.50" y="344.52" width="45.15" height="3.33" fill="#807f2f"/>
<rect x="428.50" y="347.44" width="45.15" height="3.33" fill="#74732c"/>
<rect x="428.50" y="350.37" width="45.15" height="3.33" fill="#a7a636"/>
<rect x="428.50" y="353.30" width="45.15" height="3.33" fill="#959433"/>
<rect x="428.50" y="356.22" width="45.15" height="3.33" fill="#74732c"/>
<rect x="428.50" y="359.15" width="45.15" height="3.33" fill="#505023"/>
<rect x="428.50" y="362.07" width="45.15" height="3.33" fill="#686729"/>
<rect x="473.25" y="103.00" width="45.15" height="3.40" fill="#141414"/>
<rect x="473.25" y="106.00" width="45.15" height="3.40" fill="#1e2c2c"/>
<rect x="473.25" y="108.99" width="45.15" height="3.40" fill="#2d5051"/>
<rect x="473.25" y="111.99" width="45.15" height="3.40" fill="#192020"/>
<rect x="473.25" y="114.98" width="45.15" height="3.40" fill="#418082"/>
<rect x="473.25" y="117.98" width="45.15" height="3.40" fill="#4c9295"/>
<rect x="473.25" y="120.97" width="45.15" height="3.40" fill="#5ca6a9"/>
<rect x="473.25" y="123.97" width="45.15" height="3.40" fill="#56a0a2"/>
<rect x="473.25" y="126.96" width="45.15" height="3.40" fill="#4c9295"/>
<rect x="473.25" y="129.96" width="45.15" height="3.40" fill="#4c9295"/>
<rect x="473.25" y="132.95" width="45.15" height="3.40" fill="#51999c"/>
<rect x="473.25" y="135.95" width="45.15" height="3.40" fill="#6cbabe"/>
<rect x="473.25" y="138.94" width="45.15" height="3.40" fill="#72c0c4"/>
<rect x="473.25" y="141.94" width="45.15" height="3.40" fill="#6cbabe"/>
<rect x="473.25" y="144.94" width="45.15" height="3.40" fill="#51999c"/>
<rect x="473.25" y="147.93" width="45.15" height="3.40" fill="#468c8e"/>
<rect x="473.25" y="150.93" width="45.15" height="3.40" fill="#325c5d"/>
<rect x="473.25" y="153.92" width="45.15" height="3.40" fill="#468c8e"/>
<rect x="473.25" y="156.92" width="45.15" height="3.40" fill="#5ca6a9"/>
<rect x="473.25" y="159.91" width="45.15" height="3.40" fill="#62acb0"/>
<rect x="473.25" y="162.91" width="45.15" height="3.40" fill="#62acb0"/>
<rect x="473.25" y="165.90" width="45.15" height="3.40" fill="#5ca6a9"/>
<rect x="473.25" y="168.90" width="45.15" height="3.40" fill="#67b3b7"/>
<rect x="473.25" y="171.89" width="45.15" height="3.40" fill="#67b3b7"/>
<rect x="473.25" y="174.89" width="45.15" height="3.40" fill="#4c9295"/>
<rect x="473.25" y="177.88" width="45.15" height="3.40" fill="#56a0a2"/>
<rect x="473.25" y="180.88" width="45.15" height="3.40" fill="#3c7476"/>
<rect x="473.25" y="183.88" width="45.15" height="3.40" fill="#233839"/>
<rect x="473.25" y="186.87" width="45.15" height="3.40" fill="#2d5051"/>
<rect x="473.25" y="189.87" width="45.15" height="3.40" fill="#2d5051"/>
<rect x="473.25" y="192.86" width="45.15" height="3.40" fill="#325c5d"/>
<rect x="473.25" y="195.86" width="45.15" height="3.40" fill="#233839"/>
<rect x="473.25" y="198.85" width="45.15" height="3.40" fill="#2d5051"/>
<rect x="473.25" y="201.85" width="45.15" height="3.40" fill="#284445"/>
<rect x="473.25" y="204.84" width="45.15" height="3.40" fill="#325c5d"/>
<rect x="473.25" y="207.84" width="45.15" height="3.40" fill="#3c7476"/>
<rect x="473.25" y="210.83" width="45.15" height="3.40" fill="#418082"/>
<rect x="473.25" y="213.83" width="45.15" height="3.40" fill="#468c8e"/>
<rect x="473.25" y="216.82" width="45.15" height="3.40" fill="#1e2c2c"/>
<rect x="473.25" y="219.82" width="45.15" height="3.40" fill="#233839"/>
<rect x="473.25" y="222.82" width="45.15" height="3.40" fill="#3c7476"/>
<rect x="473.25" y="225.81" width="45.15" height="3.40" fill="#418082"/>
<rect x="473.25" y="228.81" width="45.15" height="3.40" fill="#233839"/>
<rect x="473.25" y="231.80" width="45.15" height="3.40" fill="#2d5051"/>
<rect x="473.25" y="234.80" width="45.15" height="3.40" fill="#2d5051"/>
<rect x="473.25" y="237.79" width="45.15" height="3.40" fill="#2d5051"/>
<rect x="473.25" y="240.79" width="45.15" height="3.40" fill="#418082"/>
<rect x="473.25" y="243.78" width="45.15" height="3.40" fill="#418082"/>
<rect x="473.25" y="246.78" width="45.15" height="3.40" fill="#325c5d"/>
<rect x="473.25" y="249.77" width="45.15" height="3.40" fill="#2d5051"/>
<rect x="473.25" y="252.77" width="45.15" height="3.40" fill="#3c7476"/>
<rect x="473.25" y="255.76" width="45.15" height="3.40" fill="#418082"/>
<rect x="473.25" y="258.76" width="45.15" height="3.40" fill="#468c8e"/>
<rect x="473.25" y="261.76" width="45.15" height="3.40" fill="#468c8e"/>
<rect x="473.25" y="264.75" width="45.15" height="3.40" fill="#4c9295"/>
<rect x="473.25" y="267.75" width="45.15" height="3.40" fill="#418082"/>
<rect x="473.25" y="270.74" width="45.15" height="3.40" fill="#418082"/>
<rect x="473.25" y="273.74" width="45.15" height="3.40" fill="#3c7476"/>
<rect x="473.25" y="276.73" width="45.15" height="3.40" fill="#325c5d"/>
<rect x="473.25" y="279.73" width="45.15" height="3.40" fill="#418082"/>
<rect x="473.25" y="282.72" width="45.15" height="3.40" fill="#468c8e"/>
<rect x="473.25" y="285.72" width="45.15" height="3.40" fill="#418082"/>
<rect x="473.25" y="288.71" width="45.15" height="3.40" fill="#2d5051"/>
<rect x="473.25" y="291.71" width="45.15" height="3.40" fill="#141414"/>
<rect x="473.25" y="294.70" width="45.15" height="3.40" fill="#192020"/>
<rect x="473.25" y="297.70" width="45.15" height="3.33" fill="#38381d"/>
<rect x="473.25" y="300.63" width="45.15" height="3.33" fill="#202017"/>
<rect x="473.25" y="303.55" width="45.15" height="3.33" fill="#505023"/>
<rect x="473.25" y="306.48" width="45.15" height="3.33" fill="#444420"/>
<rect x="473.25" y="309.40" width="45.15" height="3.33" fill="#141414"/>
<rect x="473.25" y="312.33" width="45.15" height="3.33" fill="#74732c"/>
<rect x="473.25" y="315.26" width="45.15" height="3.33" fill="#807f2f"/>
<rect x="473.25" y="318.18" width="45.15" height="3.33" fill="#38381d"/>
<rect x="473.25" y="321.11" width="45.15" height="3.33" fill="#686729"/>
<rect x="473.25" y="324.03" width="45.15" height="3.33" fill="#686729"/>
<rect x="473.25" y="326.96" width="45.15" height="3.33" fill="#505023"/>
<rect x="473.25" y="329.89" width="45.15" height="3.33" fill="#686729"/>
<rect x="473.25" y="332.81" width="45.15" height="3.33" fill="#505023"/>
<rect x="473.25" y="335.74" width="45.15" height="3.33" fill="#74732c"/>
<rect x="473.25" y="338.67" width="45.15" height="3.33" fill="#74732c"/>
<rect x="473.25" y="341.59" width="45.15" height="3.33" fill="#686729"/>
<rect x="473.25" y="344.52" width="45.15" height="3.33" fill="#2c2c1a"/>
<rect x="473.25" y="347.44" width="45.15" height="3.33" fill="#c2c039"/>
<rect x="473.25" y="350.37" width="45.15" height="3.33" fill="#a7a636"/>
<rect x="473.25" y="353.30" width="45.15" height="3.33" fill="#807f2f"/>
<rect x="473.25" y="356.22" width="45.15" height="3.33" fill="#8c8b32"/>
<rect x="473.25" y="359.15" width="45.15" height="3.33" fill="#cbc93a"/>
<rect x="473.25" y="362.07" width="45.15" height="3.33" fill="#74732c"/>
</g>
<text transform="translate(0.6 19.5) scale(1.08 1)" font-size="25.5" font-weight="bold" font-family="Liberation Sans, sans-serif" fill="#111">A</text>
<text x="0" y="462" font-size="25" font-weight="bold" font-family="Liberation Sans, sans-serif" fill="#111">B</text>
<defs><linearGradient id="cb" x1="0" x2="1" y1="0" y2="0"><stop offset="0" stop-color="#80cdd8"/><stop offset="0.25" stop-color="#4a9aa2"/><stop offset="0.5" stop-color="#141414"/><stop offset="0.75" stop-color="#808036"/><stop offset="1" stop-color="#ece23e"/></linearGradient></defs>
<rect x="57.5" y="4" width="82.5" height="13" fill="url(#cb)" stroke="#111" stroke-width="1.3"/>
<line x1="57.5" y1="17" x2="57.5" y2="25" stroke="#111" stroke-width="1.4"/>
<line x1="79.3" y1="17" x2="79.3" y2="25" stroke="#111" stroke-width="1.4"/>
<line x1="99.1" y1="17" x2="99.1" y2="25" stroke="#111" stroke-width="1.4"/>
<line x1="119.7" y1="17" x2="119.7" y2="25" stroke="#111" stroke-width="1.4"/>
<line x1="140" y1="17" x2="140" y2="25" stroke="#111" stroke-width="1.4"/>
<text x="58.4" y="45.8" font-size="16.2" text-anchor="middle" font-family="Liberation Sans, sans-serif" fill="#111">-2</text>
<text x="78.2" y="45.8" font-size="16.2" text-anchor="middle" font-family="Liberation Sans, sans-serif" fill="#111">-1</text>
<text x="98.7" y="45.8" font-size="16.2" text-anchor="middle" font-family="Liberation Sans, sans-serif" fill="#111">0</text>
<text x="119.3" y="45.8" font-size="16.2" text-anchor="middle" font-family="Liberation Sans, sans-serif" fill="#111">1</text>
<text x="140" y="45.8" font-size="16.2" text-anchor="middle" font-family="Liberation Sans, sans-serif" fill="#111">2</text>
<text transform="translate(99.7 67.2) scale(1.06 1)" font-size="16" text-anchor="middle" font-family="Liberation Sans, sans-serif" fill="#111">Z-Score</text>
<rect x="160" y="84" width="179" height="13" fill="#000"/>
<rect x="339" y="84" width="179" height="13" fill="#cf2228"/>
<rect x="141.3" y="103" width="12.7" height="194.6" fill="#8ac6d6"/>
<rect x="141.3" y="297.6" width="12.7" height="67.4" fill="#cf2228"/>
<line x1="183.7" y1="377" x2="321" y2="377" stroke="#222" stroke-width="1.5"/>
<line x1="366.3" y1="377" x2="499.3" y2="377" stroke="#222" stroke-width="1.5"/>
<text x="234.6" y="402.9" font-size="18.5" font-weight="bold" font-family="Liberation Sans, sans-serif" fill="#111">WT<tspan font-size="10.5" dx="1.2" dy="-6">lox</tspan></text>
<text x="435.3" y="402.6" font-size="19.3" font-weight="bold" text-anchor="middle" font-family="Liberation Sans, sans-serif" fill="#111">dKO</text>
<path d="M182.5 81L182.5 72M226.8 81L226.8 72M182.5 72L226.8 72M205 72L205 64M271.8 81L271.8 64M205 64L271.8 64M238.9 64L238.9 55.4M317.5 81L317.5 55.4M238.9 55.4L317.5 55.4M278.4 55.4L278.4 3.5M361.5 81L361.5 68.5M406.5 81L406.5 68.5M361.5 68.5L406.5 68.5M451.5 81L451.5 68.5M496.5 81L496.5 68.5M451.5 68.5L496.5 68.5M384 68.5L384 60.6M473.3 68.5L473.3 60.6M384 60.6L473.3 60.6M429.3 60.6L429.3 3.5M278.4 3.5L429.3 3.5" stroke="#111" stroke-width="1.3" fill="none" stroke-linecap="square"/>
<path d="M132.5 107.5L136.0 107.5M132.5 110.4L136.0 110.4M132.5 107.5L132.5 110.4M131.3 104.5L136.0 104.5M131.3 109.0L132.5 109.0M131.3 104.5L131.3 109.0M133.1 113.4L136.0 113.4M133.1 116.4L136.0 116.4M133.1 113.4L133.1 116.4M131.9 114.9L133.1 114.9M131.9 119.4L136.0 119.4M131.9 114.9L131.9 119.4M121.7 106.7L131.3 106.7M121.7 117.1L131.9 117.1M121.7 106.7L121.7 117.1M132.8 125.3L136.0 125.3M132.8 128.3L136.0 128.3M132.8 125.3L132.8 128.3M131.6 122.4L136.0 122.4M131.6 126.8L132.8 126.8M131.6 122.4L131.6 126.8M133.3 131.3L136.0 131.3M133.3 134.3L136.0 134.3M133.3 131.3L133.3 134.3M130.4 124.6L131.6 124.6M130.4 132.8L133.3 132.8M130.4 124.6L130.4 132.8M133.7 137.2L136.0 137.2M133.7 140.2L136.0 140.2M133.7 137.2L133.7 140.2M133.2 146.2L136.0 146.2M133.2 149.1L136.0 149.1M133.2 146.2L133.2 149.1M132.0 143.2L136.0 143.2M132.0 147.7L133.2 147.7M132.0 143.2L132.0 147.7M129.7 138.7L133.7 138.7M129.7 145.4L132.0 145.4M129.7 138.7L129.7 145.4M127.6 128.7L130.4 128.7M127.6 142.1L129.7 142.1M127.6 128.7L127.6 142.1M132.0 152.1L136.0 152.1M132.0 155.1L136.0 155.1M132.0 152.1L132.0 155.1M133.0 158.1L136.0 158.1M133.0 161.1L136.0 161.1M133.0 158.1L133.0 161.1M130.8 153.6L132.0 153.6M130.8 159.6L133.0 159.6M130.8 153.6L130.8 159.6M133.5 164.0L136.0 164.0M133.5 167.0L136.0 167.0M133.5 164.0L133.5 167.0M131.1 165.5L133.5 165.5M131.1 170.0L136.0 170.0M131.1 165.5L131.1 170.0M128.5 156.6L130.8 156.6M128.5 167.8L131.1 167.8M128.5 156.6L128.5 167.8M132.0 175.9L136.0 175.9M132.0 178.9L136.0 178.9M132.0 175.9L132.0 178.9M130.8 177.4L132.0 177.4M130.8 181.9L136.0 181.9M130.8 177.4L130.8 181.9M129.6 173.0L136.0 173.0M129.6 179.7L130.8 179.7M129.6 173.0L129.6 179.7M126.8 162.2L128.5 162.2M126.8 176.3L129.6 176.3M126.8 162.2L126.8 176.3M122.0 135.4L127.6 135.4M122.0 169.2L126.8 169.2M122.0 135.4L122.0 169.2M118.2 111.9L121.7 111.9M118.2 152.3L122.0 152.3M118.2 111.9L118.2 152.3M132.8 187.9L136.0 187.9M132.8 190.8L136.0 190.8M132.8 187.9L132.8 190.8M131.6 184.9L136.0 184.9M131.6 189.3L132.8 189.3M131.6 184.9L131.6 189.3M131.9 193.8L136.0 193.8M131.9 196.8L136.0 196.8M131.9 193.8L131.9 196.8M131.9 199.8L136.0 199.8M131.9 202.7L136.0 202.7M131.9 199.8L131.9 202.7M130.7 201.2L131.9 201.2M130.7 205.7L136.0 205.7M130.7 201.2L130.7 205.7M129.3 195.3L131.9 195.3M129.3 203.5L130.7 203.5M129.3 195.3L129.3 203.5M127.6 187.1L131.6 187.1M127.6 199.4L129.3 199.4M127.6 187.1L127.6 199.4M132.5 208.7L136.0 208.7M132.5 211.7L136.0 211.7M132.5 208.7L132.5 211.7M132.4 217.6L136.0 217.6M132.4 220.6L136.0 220.6M132.4 217.6L132.4 220.6M131.2 214.6L136.0 214.6M131.2 219.1L132.4 219.1M131.2 214.6L131.2 219.1M129.8 210.2L132.5 210.2M129.8 216.9L131.2 216.9M129.8 210.2L129.8 216.9M132.0 223.6L136.0 223.6M132.0 226.6L136.0 226.6M132.0 223.6L132.0 226.6M128.6 213.5L129.8 213.5M128.6 225.1L132.0 225.1M128.6 213.5L128.6 225.1M126.4 193.2L127.6 193.2M126.4 219.3L128.6 219.3M126.4 193.2L126.4 219.3M133.2 232.5L136.0 232.5M133.2 235.5L136.0 235.5M133.2 232.5L133.2 235.5M131.2 229.5L136.0 229.5M131.2 234.0L133.2 234.0M131.2 229.5L131.2 234.0M130.0 231.8L131.2 231.8M130.0 238.5L136.0 238.5M130.0 231.8L130.0 238.5M132.8 241.4L136.0 241.4M132.8 244.4L136.0 244.4M132.8 241.4L132.8 244.4M131.6 242.9L132.8 242.9M131.6 247.4L136.0 247.4M131.6 242.9L131.6 247.4M132.9 250.4L136.0 250.4M132.9 253.4L136.0 253.4M132.9 250.4L132.9 253.4M129.8 245.2L131.6 245.2M129.8 251.9L132.9 251.9M129.8 245.2L129.8 251.9M128.6 235.1L130.0 235.1M128.6 248.5L129.8 248.5M128.6 235.1L128.6 248.5M133.2 259.3L136.0 259.3M133.2 262.3L136.0 262.3M133.2 259.3L133.2 262.3M131.7 256.3L136.0 256.3M131.7 260.8L133.2 260.8M131.7 256.3L131.7 260.8M133.3 265.3L136.0 265.3M133.3 268.2L136.0 268.2M133.3 265.3L133.3 268.2M132.1 274.2L136.0 274.2M132.1 277.2L136.0 277.2M132.1 274.2L132.1 277.2M130.9 275.7L132.1 275.7M130.9 280.1L136.0 280.1M130.9 275.7L130.9 280.1M129.7 271.2L136.0 271.2M129.7 277.9L130.9 277.9M129.7 271.2L129.7 277.9M128.5 266.8L133.3 266.8M128.5 274.6L129.7 274.6M128.5 266.8L128.5 274.6M127.3 258.6L131.7 258.6M127.3 270.7L128.5 270.7M127.3 258.6L127.3 270.7M125.4 241.8L128.6 241.8M125.4 264.6L127.3 264.6M125.4 241.8L125.4 264.6M122.3 206.3L126.4 206.3M122.3 253.2L125.4 253.2M122.3 206.3L122.3 253.2M117.5 132.1L118.2 132.1M117.5 229.7L122.3 229.7M117.5 132.1L117.5 229.7M132.7 283.1L136.0 283.1M132.7 286.1L136.0 286.1M132.7 283.1L132.7 286.1M133.2 292.1L136.0 292.1M133.2 295.0L136.0 295.0M133.2 292.1L133.2 295.0M130.5 289.1L136.0 289.1M130.5 293.5L133.2 293.5M130.5 289.1L130.5 293.5M118.8 284.6L132.7 284.6M118.8 291.3L130.5 291.3M118.8 284.6L118.8 291.3M112.4 180.9L117.5 180.9M112.4 288.0L118.8 288.0M112.4 180.9L112.4 288.0M133.4 301.0L136.0 301.0M133.4 304.0L136.0 304.0M133.4 301.0L133.4 304.0M131.4 298.0L136.0 298.0M131.4 302.5L133.4 302.5M131.4 298.0L131.4 302.5M131.8 306.9L136.0 306.9M131.8 309.9L136.0 309.9M131.8 306.9L131.8 309.9M130.2 300.2L131.4 300.2M130.2 308.4L131.8 308.4M130.2 300.2L130.2 308.4M132.9 312.9L136.0 312.9M132.9 315.9L136.0 315.9M132.9 312.9L132.9 315.9M130.8 314.4L132.9 314.4M130.8 318.9L136.0 318.9M130.8 314.4L130.8 318.9M129.0 304.3L130.2 304.3M129.0 316.6L130.8 316.6M129.0 304.3L129.0 316.6M133.3 324.8L136.0 324.8M133.3 327.8L136.0 327.8M133.3 324.8L133.3 327.8M132.1 321.8L136.0 321.8M132.1 326.3L133.3 326.3M132.1 321.8L132.1 326.3M133.5 330.8L136.0 330.8M133.5 333.7L136.0 333.7M133.5 330.8L133.5 333.7M130.4 324.1L132.1 324.1M130.4 332.2L133.5 332.2M130.4 324.1L130.4 332.2M133.0 339.7L136.0 339.7M133.0 342.7L136.0 342.7M133.0 339.7L133.0 342.7M131.8 336.7L136.0 336.7M131.8 341.2L133.0 341.2M131.8 336.7L131.8 341.2M132.1 345.6L136.0 345.6M132.1 348.6L136.0 348.6M132.1 345.6L132.1 348.6M130.9 347.1L132.1 347.1M130.9 351.6L136.0 351.6M130.9 347.1L130.9 351.6M129.7 338.9L131.8 338.9M129.7 349.4L130.9 349.4M129.7 338.9L129.7 349.4M126.9 328.2L130.4 328.2M126.9 344.2L129.7 344.2M126.9 328.2L126.9 344.2M120.5 310.5L129.0 310.5M120.5 336.2L126.9 336.2M120.5 310.5L120.5 336.2M132.3 357.6L136.0 357.6M132.3 360.5L136.0 360.5M132.3 357.6L132.3 360.5M131.1 354.6L136.0 354.6M131.1 359.0L132.3 359.0M131.1 354.6L131.1 359.0M125.5 356.8L131.1 356.8M125.5 363.5L136.0 363.5M125.5 356.8L125.5 363.5M117.2 323.3L120.5 323.3M117.2 360.2L125.5 360.2M117.2 323.3L117.2 360.2M2.6 234.4L112.4 234.4M2.6 341.7L117.2 341.7M2.6 234.4L2.6 341.7" stroke="#111" stroke-width="1.4" fill="none" stroke-linecap="square"/>
<line x1="360.5" y1="433.2" x2="360.5" y2="813.3" stroke="#dadada" stroke-width="1"/>
<line x1="115" y1="543.1" x2="495.3" y2="543.1" stroke="#dadada" stroke-width="1"/>
<circle cx="316" cy="500.7" r="3.3" fill="#c2262f" stroke="#561214" stroke-width="1.3"/>
<circle cx="321.3" cy="504.4" r="3.3" fill="#c2262f" stroke="#561214" stroke-width="1.3"/>
<circle cx="292.2" cy="512.3" r="3.3" fill="#c2262f" stroke="#561214" stroke-width="1.3"/>
<circle cx="311.3" cy="523.1" r="3.3" fill="#c2262f" stroke="#561214" stroke-width="1.3"/>
<circle cx="324.2" cy="526.3" r="3.3" fill="#c2262f" stroke="#561214" stroke-width="1.3"/>
<circle cx="271" cy="561.9" r="3.3" fill="#c2262f" stroke="#561214" stroke-width="1.3"/>
<circle cx="273.1" cy="566.6" r="3.3" fill="#c2262f" stroke="#561214" stroke-width="1.3"/>
<circle cx="291.3" cy="575.6" r="3.3" fill="#c2262f" stroke="#561214" stroke-width="1.3"/>
<circle cx="329.2" cy="567.1" r="3.3" fill="#c2262f" stroke="#561214" stroke-width="1.3"/>
<circle cx="337.8" cy="575" r="3.3" fill="#c2262f" stroke="#561214" stroke-width="1.3"/>
<circle cx="319" cy="586.5" r="3.3" fill="#c2262f" stroke="#561214" stroke-width="1.3"/>
<circle cx="320.2" cy="594.4" r="3.3" fill="#c2262f" stroke="#561214" stroke-width="1.3"/>
<circle cx="321.3" cy="596.2" r="3.3" fill="#c2262f" stroke="#561214" stroke-width="1.3"/>
<circle cx="310.4" cy="601.3" r="3.3" fill="#c2262f" stroke="#561214" stroke-width="1.3"/>
<circle cx="309.4" cy="613.2" r="3.3" fill="#c2262f" stroke="#561214" stroke-width="1.3"/>
<circle cx="310.4" cy="622.8" r="3.3" fill="#c2262f" stroke="#561214" stroke-width="1.3"/>
<circle cx="325.2" cy="627.6" r="3.3" fill="#c2262f" stroke="#561214" stroke-width="1.3"/>
<circle cx="341.5" cy="597" r="3.3" fill="#c2262f" stroke="#561214" stroke-width="1.3"/>
<circle cx="342.5" cy="600.9" r="3.3" fill="#c2262f" stroke="#561214" stroke-width="1.3"/>
<circle cx="338.7" cy="609.3" r="3.3" fill="#c2262f" stroke="#561214" stroke-width="1.3"/>
<circle cx="342.5" cy="610.3" r="3.3" fill="#c2262f" stroke="#561214" stroke-width="1.3"/>
<circle cx="345.4" cy="620.1" r="3.3" fill="#c2262f" stroke="#561214" stroke-width="1.3"/>
<circle cx="345.4" cy="629.8" r="3.3" fill="#c2262f" stroke="#561214" stroke-width="1.3"/>
<circle cx="344.7" cy="638.4" r="3.3" fill="#c2262f" stroke="#561214" stroke-width="1.3"/>
<circle cx="347.3" cy="641.3" r="3.3" fill="#c2262f" stroke="#561214" stroke-width="1.3"/>
<circle cx="335.5" cy="646.5" r="3.3" fill="#c2262f" stroke="#561214" stroke-width="1.3"/>
<circle cx="341" cy="660.1" r="3.3" fill="#c2262f" stroke="#561214" stroke-width="1.3"/>
<circle cx="346" cy="672.1" r="3.3" fill="#c2262f" stroke="#561214" stroke-width="1.3"/>
<circle cx="340.3" cy="675.2" r="3.3" fill="#c2262f" stroke="#561214" stroke-width="1.3"/>
<circle cx="358.4" cy="606.7" r="3.3" fill="#c2262f" stroke="#561214" stroke-width="1.3"/>
<circle cx="358" cy="614.6" r="3.3" fill="#c2262f" stroke="#561214" stroke-width="1.3"/>
<circle cx="357" cy="617.8" r="3.3" fill="#c2262f" stroke="#561214" stroke-width="1.3"/>
<circle cx="360.3" cy="617.2" r="3.3" fill="#c2262f" stroke="#561214" stroke-width="1.3"/>
<circle cx="359.9" cy="627.6" r="3.3" fill="#c2262f" stroke="#561214" stroke-width="1.3"/>
<circle cx="355.1" cy="651" r="3.3" fill="#c2262f" stroke="#561214" stroke-width="1.3"/>
<circle cx="365.8" cy="639.5" r="3.3" fill="#c2262f" stroke="#561214" stroke-width="1.3"/>
<circle cx="368.5" cy="640" r="3.3" fill="#c2262f" stroke="#561214" stroke-width="1.3"/>
<circle cx="372.2" cy="647.6" r="3.3" fill="#c2262f" stroke="#561214" stroke-width="1.3"/>
<circle cx="369.2" cy="583.5" r="3.3" fill="#c2262f" stroke="#561214" stroke-width="1.3"/>
<circle cx="374" cy="574.2" r="3.3" fill="#c2262f" stroke="#561214" stroke-width="1.3"/>
<circle cx="387" cy="571.4" r="3.3" fill="#c2262f" stroke="#561214" stroke-width="1.3"/>
<circle cx="382.3" cy="578.2" r="3.3" fill="#c2262f" stroke="#561214" stroke-width="1.3"/>
<circle cx="392.5" cy="580.8" r="3.3" fill="#c2262f" stroke="#561214" stroke-width="1.3"/>
<circle cx="400.5" cy="598.9" r="3.3" fill="#c2262f" stroke="#561214" stroke-width="1.3"/>
<circle cx="399.1" cy="615" r="3.3" fill="#c2262f" stroke="#561214" stroke-width="1.3"/>
<circle cx="391.9" cy="638.5" r="3.3" fill="#c2262f" stroke="#561214" stroke-width="1.3"/>
<circle cx="436.6" cy="654.3" r="3.3" fill="#c2262f" stroke="#561214" stroke-width="1.3"/>
<circle cx="449.5" cy="680.2" r="3.3" fill="#c2262f" stroke="#561214" stroke-width="1.3"/>
<circle cx="481.1" cy="707.8" r="3.3" fill="#c2262f" stroke="#561214" stroke-width="1.3"/>
<circle cx="303" cy="714.6" r="3.3" fill="#c2262f" stroke="#561214" stroke-width="1.3"/>
<circle cx="259.3" cy="643" r="3.3" fill="#c2262f" stroke="#561214" stroke-width="1.3"/>
<circle cx="262" cy="688.8" r="3.3" fill="#c2262f" stroke="#561214" stroke-width="1.3"/>
<circle cx="253.8" cy="597.9" r="3.3" fill="#c2262f" stroke="#561214" stroke-width="1.3"/>
<circle cx="409" cy="446.9" r="3.3" fill="#c2262f" stroke="#561214" stroke-width="1.3"/>
<circle cx="407.2" cy="468.1" r="3.3" fill="#c2262f" stroke="#561214" stroke-width="1.3"/>
<circle cx="400.5" cy="484.3" r="3.3" fill="#c2262f" stroke="#561214" stroke-width="1.3"/>
<circle cx="349.9" cy="456.3" r="3.3" fill="#c2262f" stroke="#561214" stroke-width="1.3"/>
<circle cx="353" cy="460.9" r="3.3" fill="#c2262f" stroke="#561214" stroke-width="1.3"/>
<circle cx="369.3" cy="458.3" r="3.3" fill="#c2262f" stroke="#561214" stroke-width="1.3"/>
<circle cx="339.9" cy="497.9" r="3.3" fill="#c2262f" stroke="#561214" stroke-width="1.3"/>
<circle cx="352.8" cy="502.2" r="3.3" fill="#c2262f" stroke="#561214" stroke-width="1.3"/>
<circle cx="379.7" cy="509.1" r="3.3" fill="#c2262f" stroke="#561214" stroke-width="1.3"/>
<circle cx="395.5" cy="510.2" r="3.3" fill="#c2262f" stroke="#561214" stroke-width="1.3"/>
<circle cx="380.5" cy="518.4" r="3.3" fill="#c2262f" stroke="#561214" stroke-width="1.3"/>
<circle cx="381.9" cy="526.6" r="3.3" fill="#c2262f" stroke="#561214" stroke-width="1.3"/>
<circle cx="360.8" cy="520.5" r="3.3" fill="#c2262f" stroke="#561214" stroke-width="1.3"/>
<circle cx="212.4" cy="553.4" r="3.3" fill="#79ad52" stroke="#2a4418" stroke-width="1.3"/>
<circle cx="256.5" cy="535.1" r="3.3" fill="#79ad52" stroke="#2a4418" stroke-width="1.3"/>
<circle cx="240.1" cy="543.4" r="3.3" fill="#79ad52" stroke="#2a4418" stroke-width="1.3"/>
<circle cx="238.4" cy="548.8" r="3.3" fill="#79ad52" stroke="#2a4418" stroke-width="1.3"/>
<circle cx="245.9" cy="547.2" r="3.3" fill="#79ad52" stroke="#2a4418" stroke-width="1.3"/>
<circle cx="250.5" cy="542.8" r="3.3" fill="#79ad52" stroke="#2a4418" stroke-width="1.3"/>
<circle cx="253.7" cy="543.8" r="3.3" fill="#79ad52" stroke="#2a4418" stroke-width="1.3"/>
<circle cx="248.4" cy="551.6" r="3.3" fill="#79ad52" stroke="#2a4418" stroke-width="1.3"/>
<circle cx="254.5" cy="549" r="3.3" fill="#79ad52" stroke="#2a4418" stroke-width="1.3"/>
<circle cx="242" cy="559.3" r="3.3" fill="#79ad52" stroke="#2a4418" stroke-width="1.3"/>
<circle cx="244" cy="561.5" r="3.3" fill="#79ad52" stroke="#2a4418" stroke-width="1.3"/>
<circle cx="265.2" cy="562" r="3.3" fill="#79ad52" stroke="#2a4418" stroke-width="1.3"/>
<circle cx="278.8" cy="559.2" r="3.3" fill="#79ad52" stroke="#2a4418" stroke-width="1.3"/>
<circle cx="255.5" cy="571.3" r="3.3" fill="#79ad52" stroke="#2a4418" stroke-width="1.3"/>
<circle cx="254.5" cy="577" r="3.3" fill="#79ad52" stroke="#2a4418" stroke-width="1.3"/>
<circle cx="257" cy="577.5" r="3.3" fill="#79ad52" stroke="#2a4418" stroke-width="1.3"/>
<circle cx="263.8" cy="573.3" r="3.3" fill="#79ad52" stroke="#2a4418" stroke-width="1.3"/>
<circle cx="279.7" cy="507.7" r="3.3" fill="#79ad52" stroke="#2a4418" stroke-width="1.3"/>
<circle cx="298.5" cy="523.3" r="3.3" fill="#79ad52" stroke="#2a4418" stroke-width="1.3"/>
<circle cx="296.9" cy="526.2" r="3.3" fill="#79ad52" stroke="#2a4418" stroke-width="1.3"/>
<circle cx="309.4" cy="529.7" r="3.3" fill="#79ad52" stroke="#2a4418" stroke-width="1.3"/>
<circle cx="292.3" cy="540" r="3.3" fill="#79ad52" stroke="#2a4418" stroke-width="1.3"/>
<circle cx="291.4" cy="544.4" r="3.3" fill="#79ad52" stroke="#2a4418" stroke-width="1.3"/>
<circle cx="314.4" cy="544.8" r="3.3" fill="#79ad52" stroke="#2a4418" stroke-width="1.3"/>
<circle cx="321.9" cy="547.8" r="3.3" fill="#79ad52" stroke="#2a4418" stroke-width="1.3"/>
<circle cx="292.5" cy="557.5" r="3.3" fill="#79ad52" stroke="#2a4418" stroke-width="1.3"/>
<circle cx="297.5" cy="563" r="3.3" fill="#79ad52" stroke="#2a4418" stroke-width="1.3"/>
<circle cx="290" cy="565.3" r="3.3" fill="#79ad52" stroke="#2a4418" stroke-width="1.3"/>
<circle cx="287.2" cy="572.7" r="3.3" fill="#79ad52" stroke="#2a4418" stroke-width="1.3"/>
<circle cx="317.3" cy="599.8" r="3.3" fill="#79ad52" stroke="#2a4418" stroke-width="1.3"/>
<circle cx="438" cy="540.5" r="3.3" fill="#79ad52" stroke="#2a4418" stroke-width="1.3"/>
<circle cx="452.9" cy="505" r="3.3" fill="#79ad52" stroke="#2a4418" stroke-width="1.3"/>
<circle cx="430.5" cy="605.9" r="3.3" fill="#79ad52" stroke="#2a4418" stroke-width="1.3"/>
<circle cx="260.2" cy="593.7" r="3.3" fill="#3d4b8e" stroke="#1f2858" stroke-width="1.3"/>
<circle cx="233.5" cy="609.5" r="3.3" fill="#3d4b8e" stroke="#1f2858" stroke-width="1.3"/>
<circle cx="277.7" cy="617.7" r="3.3" fill="#3d4b8e" stroke="#1f2858" stroke-width="1.3"/>
<circle cx="128.75" cy="799.5" r="3.3" fill="#3d4b8e" stroke="#1f2858" stroke-width="1.3"/>
<rect x="115" y="433.2" width="380.3" height="380.09999999999997" fill="none" stroke="#2a2a2a" stroke-width="1.6"/>
<line x1="166.4" y1="813.3" x2="166.4" y2="823.3" stroke="#2a2a2a" stroke-width="1.4"/>
<text transform="translate(161.5 846.8)" font-size="16.5" text-anchor="middle" font-family="Liberation Sans, sans-serif" fill="#111">−6</text>
<line x1="231.1" y1="813.3" x2="231.1" y2="823.3" stroke="#2a2a2a" stroke-width="1.4"/>
<text transform="translate(226.2 846.8)" font-size="16.5" text-anchor="middle" font-family="Liberation Sans, sans-serif" fill="#111">−4</text>
<line x1="295.8" y1="813.3" x2="295.8" y2="823.3" stroke="#2a2a2a" stroke-width="1.4"/>
<text transform="translate(291.1 846.8)" font-size="16.5" text-anchor="middle" font-family="Liberation Sans, sans-serif" fill="#111">−2</text>
<line x1="360.5" y1="813.3" x2="360.5" y2="823.3" stroke="#2a2a2a" stroke-width="1.4"/>
<text transform="translate(359 846.8)" font-size="16.5" text-anchor="middle" font-family="Liberation Sans, sans-serif" fill="#111">0</text>
<line x1="425.2" y1="813.3" x2="425.2" y2="823.3" stroke="#2a2a2a" stroke-width="1.4"/>
<text transform="translate(422.8 846.8)" font-size="16.5" text-anchor="middle" font-family="Liberation Sans, sans-serif" fill="#111">2</text>
<line x1="489.9" y1="813.3" x2="489.9" y2="823.3" stroke="#2a2a2a" stroke-width="1.4"/>
<text transform="translate(487.3 846.8)" font-size="16.5" text-anchor="middle" font-family="Liberation Sans, sans-serif" fill="#111">4</text>
<line x1="105" y1="485.9" x2="115" y2="485.9" stroke="#2a2a2a" stroke-width="1.4"/>
<text transform="translate(90.9 490.9) rotate(-90)" font-size="16.6" text-anchor="middle" font-family="Liberation Sans, sans-serif" fill="#111">0.5</text>
<line x1="105" y1="543.1" x2="115" y2="543.1" stroke="#2a2a2a" stroke-width="1.4"/>
<text transform="translate(90.9 547.4) rotate(-90)" font-size="16.6" text-anchor="middle" font-family="Liberation Sans, sans-serif" fill="#111">0.0</text>
<line x1="105" y1="600.3" x2="115" y2="600.3" stroke="#2a2a2a" stroke-width="1.4"/>
<text transform="translate(90.9 607.5) rotate(-90)" font-size="16.6" text-anchor="middle" font-family="Liberation Sans, sans-serif" fill="#111">−0.5</text>
<line x1="105" y1="657.5" x2="115" y2="657.5" stroke="#2a2a2a" stroke-width="1.4"/>
<text transform="translate(90.9 664.4) rotate(-90)" font-size="16.6" text-anchor="middle" font-family="Liberation Sans, sans-serif" fill="#111">−1.0</text>
<line x1="105" y1="714.7" x2="115" y2="714.7" stroke="#2a2a2a" stroke-width="1.4"/>
<text transform="translate(90.9 721.8) rotate(-90)" font-size="16.6" text-anchor="middle" font-family="Liberation Sans, sans-serif" fill="#111">−1.5</text>
<line x1="105" y1="771.9" x2="115" y2="771.9" stroke="#2a2a2a" stroke-width="1.4"/>
<text transform="translate(90.9 779.0) rotate(-90)" font-size="16.6" text-anchor="middle" font-family="Liberation Sans, sans-serif" fill="#111">−2.0</text>
<text x="147.8" y="882.2" font-size="19.1" font-family="Liberation Sans, sans-serif" fill="#111">Protein Fold Change dKO/WT<tspan font-size="11" dy="-6">lox</tspan><tspan dy="6"> (Log</tspan><tspan font-size="12.5" dy="9">2</tspan><tspan dy="-9">)</tspan></text>
<text transform="translate(54 624.2) rotate(-90)" text-anchor="middle" font-size="19.1" font-family="Liberation Sans, sans-serif" fill="#111">RNA Fold Change dKO/WT<tspan font-size="11" dy="-6.6">lox</tspan><tspan dy="6.6"> (Log</tspan><tspan font-size="12.5" dy="5">2</tspan><tspan dy="-5">)</tspan></text>
<text x="250.3" y="596.6" font-size="18.6" text-anchor="end" font-family="Liberation Sans, sans-serif" fill="#3b4a8c">Mylk</text>
<text transform="translate(223.8 614.4) scale(1.04 1)" font-size="18.5" text-anchor="end" font-family="Liberation Sans, sans-serif" fill="#3b4a8c">Rasgrp2</text>
<text x="227.6" y="637.6" font-size="18.9" font-family="Liberation Sans, sans-serif" fill="#3b4a8c">Add3</text>
<text x="142.5" y="803" font-size="18" font-family="Liberation Sans, sans-serif" fill="#3b4a8c">Alox12</text>
<circle cx="46.8" cy="937.5" r="5.2" fill="#c2262f" stroke="#561214" stroke-width="1.3"/>
<text transform="translate(66 949) scale(1.05 1)" font-size="18" font-family="Liberation Sans, sans-serif" fill="#111">RNA FDR &lt; .1</text>
<circle cx="46.8" cy="965.8" r="5.2" fill="#79ad52" stroke="#2a4418" stroke-width="1.3"/>
<text transform="translate(66 977) scale(1.05 1)" font-size="18" font-family="Liberation Sans, sans-serif" fill="#111">Protein FDR &lt; .1</text>
<circle cx="46.8" cy="994.6" r="5.2" fill="#3d4b8e" stroke="#1f2858" stroke-width="1.3"/>
<text transform="translate(66 1005) scale(1.05 1)" font-size="18" font-family="Liberation Sans, sans-serif" fill="#111">RNA FDR &lt; .1 + Protein FDR &lt; .1</text>
</svg>
</body></html>
